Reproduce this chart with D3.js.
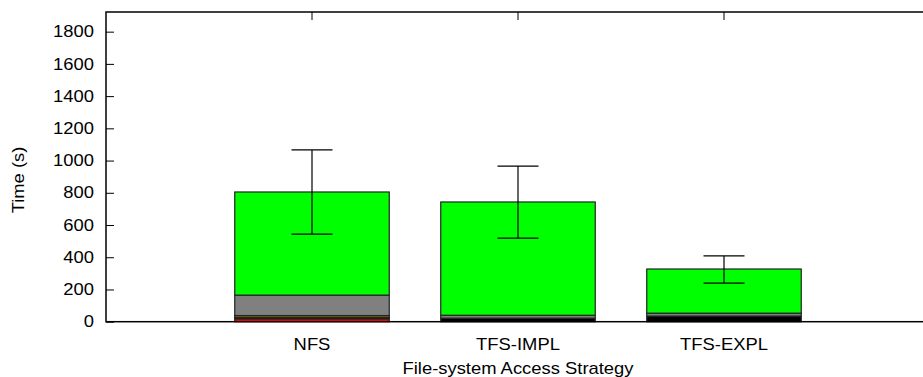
<!DOCTYPE html>
<html><head><meta charset="utf-8">
<script src="https://cdn.jsdelivr.net/npm/d3@7"></script>
<style>body{margin:0;background:#fff}svg{display:block}text{font-family:"Liberation Sans",Arial,sans-serif;fill:#000}</style>
</head><body><svg id="c" width="923" height="377"></svg>
<script>
const categories = ["NFS", "TFS-IMPL", "TFS-EXPL"];
const seriesNames = ["s1", "s2", "s3", "s4", "s5"];
const seriesColors = ["#ff0000", "#000000", "#808000", "#808080", "#00ff00"];
const s1 = [18, 0, 0];
const s2 = [8, 22, 35];
const s3 = [12, 0, 0];
const s4 = [127, 18, 18];
const s5 = [640, 703, 274];
const errLow = [544, 519, 240];
const errHigh = [1066, 966, 408];
const yTicks = [0, 200, 400, 600, 800, 1000, 1200, 1400, 1600, 1800];

const svg = d3.select("#c");
const x = d3.scaleLinear().domain([0, 4]).range([106, 930]);
const y = d3.scaleLinear().domain([0, 1922]).range([321.7, 12]);
const fs = 16;
const sx = 1.15;

const rows = categories.map((c, i) => ({cat: c, i, s1: s1[i], s2: s2[i], s3: s3[i], s4: s4[i], s5: s5[i]}));
const stack = d3.stack().keys(seriesNames)(rows);
const bw = 0.75;

stack.forEach((layer, k) => {
  svg.append("g").selectAll("rect").data(layer.filter(d => d[1] > d[0])).join("rect")
    .attr("x", d => x(d.data.i + 1 - bw / 2))
    .attr("width", d => x(bw) - x(0))
    .attr("y", d => y(d[1]))
    .attr("height", d => y(d[0]) - y(d[1]))
    .attr("fill", seriesColors[k])
    .attr("stroke", "#222")
    .attr("stroke-width", 1.2);
});

// error bars
const eb = svg.append("g").attr("stroke", "#000").attr("stroke-width", 1.2);
categories.forEach((c, i) => {
  const cx = x(i + 1);
  eb.append("line").attr("x1", cx).attr("x2", cx).attr("y1", y(errLow[i])).attr("y2", y(errHigh[i]));
  [errLow[i], errHigh[i]].forEach(v => {
    eb.append("line").attr("x1", cx - 20.5).attr("x2", cx + 20.5).attr("y1", y(v)).attr("y2", y(v));
  });
});

// frame
const fr = svg.append("g").attr("stroke", "#000").attr("stroke-width", 1.5).attr("fill", "none");
fr.append("rect").attr("x", x(0)).attr("y", y(1922)).attr("width", x(4) - x(0)).attr("height", y(0) - y(1922));

// y axis ticks
const yAxis = d3.axisLeft(y).tickValues(yTicks).tickSize(-8).tickPadding(0).tickFormat(d3.format("d"));
const ga = svg.append("g").attr("transform", `translate(${x(0)},0)`).call(yAxis);
ga.select(".domain").remove();
ga.selectAll("line").attr("stroke", "#000");
ga.selectAll("text")
  .attr("x", null)
  .attr("transform", `translate(-12,0) scale(${sx},1)`)
  .attr("font-size", fs).attr("font-family", "Liberation Sans, Arial, sans-serif").attr("fill", "#000");

// x axis: top ticks and labels
const xTop = svg.append("g").attr("stroke", "#000").attr("stroke-width", 1);
categories.forEach((c, i) => {
  xTop.append("line").attr("x1", x(i + 1)).attr("x2", x(i + 1)).attr("y1", y(1922)).attr("y2", y(1922) + 8);
});
svg.append("g").selectAll("text").data(categories).join("text")
  .attr("transform", (d, i) => `translate(${x(i + 1)},349.5) scale(${sx},1)`)
  .attr("text-anchor", "middle")
  .attr("font-size", fs).text(d => d);

svg.append("text").attr("transform", `translate(518,374) scale(${sx},1)`).attr("text-anchor", "middle").attr("font-size", fs)
  .text("File-system Access Strategy");
svg.append("text").attr("transform", `translate(24,180) rotate(-90) scale(${sx},1)`).attr("text-anchor", "middle").attr("font-size", fs)
  .text("Time (s)");
</script></body></html>
